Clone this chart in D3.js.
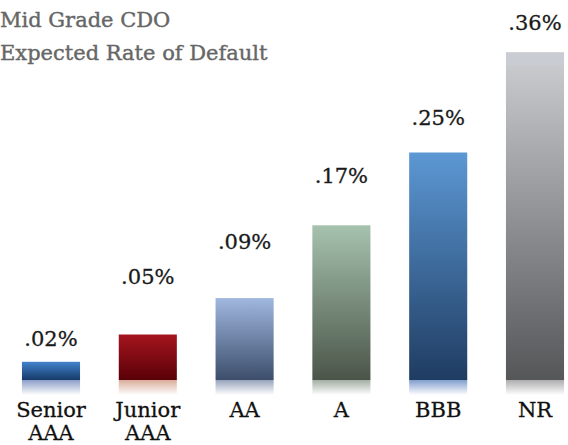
<!DOCTYPE html>
<html>
<head>
<meta charset="utf-8">
<script src="https://cdn.jsdelivr.net/npm/d3@7"></script>
<style>
html,body{margin:0;padding:0;background:#fff;}
svg{display:block;}
</style>
</head>
<body>
<svg id="chart" width="568" height="445"></svg>
<script>
const categories = [["Senior","AAA"],["Junior","AAA"],["AA"],["A"],["BBB"],["NR"]];
const values = [0.02, 0.05, 0.09, 0.17, 0.25, 0.36];
const valueLabels = [".02%", ".05%", ".09%", ".17%", ".25%", ".36%"];
const titleLines = ["Mid Grade CDO", "Expected Rate of Default"];

// styling (not data)
const topColors = ["#4383cc", "#a5151e", "#a0b7df", "#a6c2ae", "#5c98d4", "#cdced2"];
const bottomColors = ["#163a68", "#5a0008", "#3c4e6b", "#4a5548", "#1f3c62", "#555658"];
const reflColors = ["#5a74b0", "#c98a70", "#6a7ca0", "#7a8c7c", "#4a74b8", "#8a8a8c"];
const labelGap = [16, 51, 49, 42, 28, 22];

const svg = d3.select("#chart");
const baseline = 380;
const x = d3.scaleBand().domain(d3.range(values.length)).range([2.6, 583.4]).paddingInner(0.4).paddingOuter(0.2);
const y = d3.scaleLinear().domain([0, 0.4]).range([baseline, baseline - 364]);

const defs = svg.append("defs");
values.forEach((v, i) => {
  const g = defs.append("linearGradient").attr("id", "g" + i).attr("x1", 0).attr("y1", 0).attr("x2", 0).attr("y2", 1);
  g.append("stop").attr("offset", "0%").attr("stop-color", topColors[i]);
  g.append("stop").attr("offset", "100%").attr("stop-color", bottomColors[i]);
  const r = defs.append("linearGradient").attr("id", "r" + i).attr("x1", 0).attr("y1", 0).attr("x2", 0).attr("y2", 1);
  r.append("stop").attr("offset", "0%").attr("stop-color", reflColors[i]).attr("stop-opacity", 0.7);
  r.append("stop").attr("offset", "100%").attr("stop-color", reflColors[i]).attr("stop-opacity", 0);
});

const font = "'DejaVu Serif', serif";

// title
svg.selectAll("text.title").data(titleLines).enter().append("text")
  .attr("class", "title")
  .attr("x", 0)
  .attr("y", (d, i) => 27 + i * 33)
  .attr("font-family", font)
  .attr("font-size", 21)
  .attr("fill", "#666")
  .attr("stroke", "#666").attr("stroke-width", 0.4)
  .text(d => d);

// bars
svg.selectAll("rect.bar").data(values).enter().append("rect")
  .attr("class", "bar")
  .attr("x", (d, i) => x(i))
  .attr("y", d => y(d))
  .attr("width", x.bandwidth())
  .attr("height", d => y(0) - y(d))
  .attr("fill", (d, i) => `url(#g${i})`);

// NR top band highlight
svg.selectAll("rect.cap").data(values).enter().append("rect")
  .attr("class", "cap")
  .attr("x", (d, i) => x(i))
  .attr("y", d => y(d))
  .attr("width", x.bandwidth())
  .attr("height", (d, i) => i === values.length - 1 ? 13 : 0)
  .attr("fill", "#c9cdd3");

// reflections
svg.selectAll("rect.refl").data(values).enter().append("rect")
  .attr("class", "refl")
  .attr("x", (d, i) => x(i))
  .attr("y", y(0))
  .attr("width", x.bandwidth())
  .attr("height", 15)
  .attr("fill", (d, i) => `url(#r${i})`);

// value labels
svg.selectAll("text.val").data(values).enter().append("text")
  .attr("class", "val")
  .attr("x", (d, i) => x(i) + x.bandwidth() / 2)
  .attr("y", (d, i) => y(d) - labelGap[i])
  .attr("text-anchor", "middle")
  .attr("font-family", font)
  .attr("font-size", 21)
  .attr("fill", "#1a1a1a")
  .attr("stroke", "#1a1a1a").attr("stroke-width", 0.3)
  .text((d, i) => valueLabels[i]);

// category labels
const cats = svg.selectAll("text.cat").data(categories).enter().append("text")
  .attr("class", "cat")
  .attr("text-anchor", "middle")
  .attr("font-family", font)
  .attr("font-size", 21)
  .attr("fill", "#111")
  .attr("stroke", "#111").attr("stroke-width", 0.3);
cats.each(function(lines, i) {
  d3.select(this).selectAll("tspan").data(lines).enter().append("tspan")
    .attr("x", x(i) + x.bandwidth() / 2)
    .attr("y", (d, j) => 417 + j * 23)
    .text(d => d);
});
</script>
</body>
</html>
